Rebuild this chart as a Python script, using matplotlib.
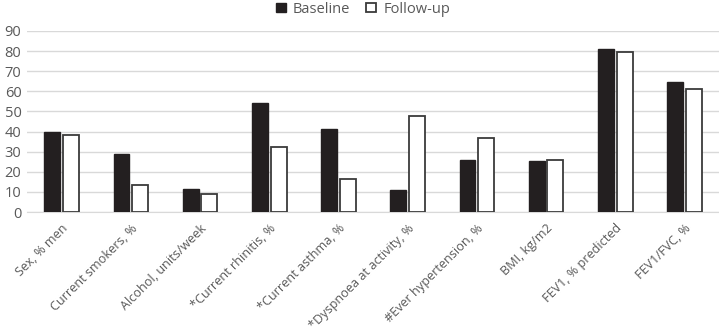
import numpy as np
import matplotlib.pyplot as plt
import matplotlib

matplotlib.rcParams["font.family"] = ["Open Sans", "DejaVu Sans"]
matplotlib.rcParams["font.size"] = 10

categories = [
    "Sex, % men",
    "Current smokers, %",
    "Alcohol, units/week",
    "*Current rhinitis, %",
    "*Current asthma, %",
    "*Dyspnoea at activity, %",
    "#Ever hypertension, %",
    "BMI, kg/m2",
    "FEV1, % predicted",
    "FEV1/FVC, %",
]
baseline = [39.7, 28.9, 11.3, 54.1, 41.3, 11.0, 26.0, 25.3, 81.0, 64.6]
followup = [38.3, 13.4, 8.9, 32.3, 16.3, 47.5, 36.8, 26.1, 79.8, 61.2]

text_color = "#595959"
x = np.arange(len(categories))
w = 0.23
off = 0.135

fig = plt.figure(figsize=(7.19, 3.32), dpi=100)
ax = fig.add_axes([27 / 719, 1 - 212 / 332, 692 / 719, 181 / 332])

ax.bar(x - off, baseline, w, color="#231f20", edgecolor="#231f20",
       linewidth=1, label="Baseline", zorder=3)
ax.bar(x + off, followup, w, color="white", edgecolor="#3a3a3a",
       linewidth=1.3, label="Follow-up", zorder=3)

ax.set_xlim(-0.5, len(categories) - 0.5)
ax.set_ylim(0, 90)
ax.set_yticks(np.arange(0, 91, 10))
ax.set_xticks(x)
ax.set_xticklabels(categories, rotation=45, ha="right", rotation_mode="anchor",
                   color=text_color, fontsize=9.1)
ax.tick_params(axis="y", colors=text_color, labelsize=10.5, length=0, pad=4)
ax.tick_params(axis="x", length=0, pad=7)
ax.grid(axis="y", color="#d9d9d9", linewidth=1, zorder=0)
for s in ["top", "right", "left"]:
    ax.spines[s].set_visible(False)
ax.spines["bottom"].set_color("#d9d9d9")

fig.legend(loc="upper center", bbox_to_anchor=(0.505, 1.035), ncol=2, frameon=False,
           fontsize=10.5, handlelength=0.65, handleheight=0.65, columnspacing=1.1,
           handletextpad=0.5, labelcolor=text_color)

fig.savefig("out.png", dpi=100)
